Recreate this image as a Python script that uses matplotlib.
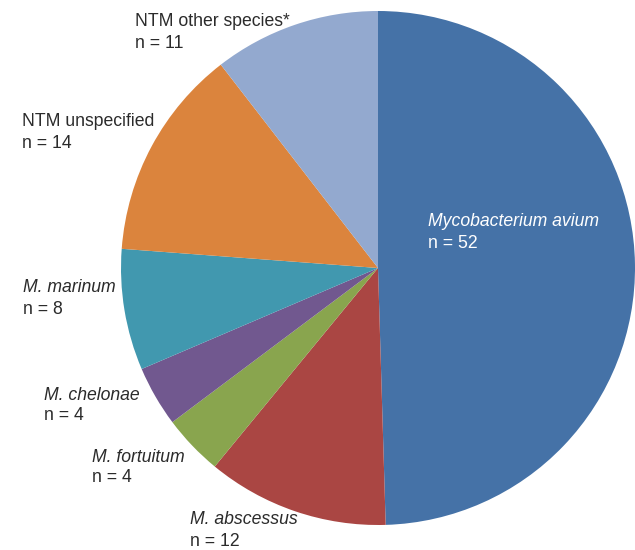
import matplotlib.pyplot as plt

plt.rcParams['font.family'] = ['Liberation Sans', 'DejaVu Sans']

# data, clockwise from 12 o'clock
species = ["Mycobacterium avium", "M. abscessus", "M. fortuitum", "M. chelonae",
           "M. marinum", "NTM unspecified", "NTM other species*"]
counts = [52, 12, 4, 4, 8, 14, 11]
colors = ["#4572A7", "#AA4643", "#89A54E", "#71588F", "#4198AF", "#DB843D", "#93A9CF"]

# label placement in pixel coords (x, y of first line, from top)
label_pos = [(428, 222), (190, 520), (92, 457), (44, 395), (23, 288), (22, 122), (135, 22)]
italic = [True, True, True, True, True, False, False]

W, H = 635, 550
fig = plt.figure(figsize=(W / 100, H / 100), dpi=100)
ax = fig.add_axes([0, 0, 1, 1])

ax.pie(counts, colors=colors, startangle=90, counterclock=False,
       center=(378, H - 268), radius=257, frame=True,
       wedgeprops=dict(linewidth=0))
ax.set_xlim(0, W)
ax.set_ylim(0, H)
ax.set_aspect('equal')
ax.axis('off')

for name, n, (x, y), it in zip(species, counts, label_pos, italic):
    col = "white" if name.startswith("Myco") else "#2b2b2b"
    ax.text(x, H - y, name, fontsize=12.7, color=col,
            style='italic' if it else 'normal', ha='left', va='center')
    ax.text(x, H - y - 21, f"n = {n}", fontsize=12.7, color=col,
            ha='left', va='center')

fig.savefig("out.png", dpi=100)
